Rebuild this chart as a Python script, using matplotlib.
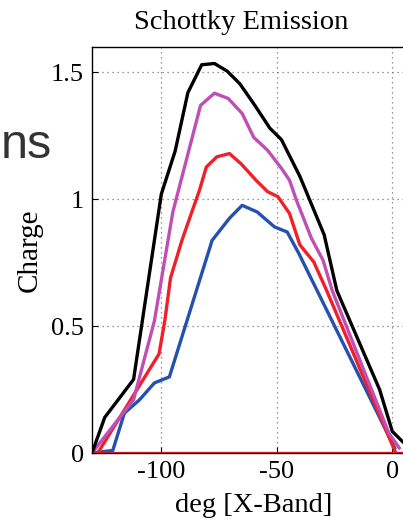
import matplotlib.pyplot as plt

# data (deg, charge)
black_x = [-130, -124.5, -112, -100, -94, -88.5, -82.5, -77, -71.5, -66, -59.5, -53, -48, -40, -29.5, -24, -5.5, 0, 5]
black_y = [0, 0.14, 0.29, 1.02, 1.19, 1.42, 1.53, 1.535, 1.505, 1.455, 1.37, 1.28, 1.235, 1.09, 0.86, 0.64, 0.25, 0.085, 0.04]

magenta_x = [-130, -112, -103, -95, -83, -77, -71, -65, -60, -54, -48, -44.5, -41.5, -35, -30, -26, -1.5, 3]
magenta_y = [0, 0.21, 0.52, 0.95, 1.37, 1.418, 1.397, 1.338, 1.244, 1.193, 1.122, 1.075, 0.996, 0.846, 0.76, 0.64, 0.078, 0.02]

red_x = [-127.5, -101, -98.5, -96, -91, -83.5, -80.5, -76, -70.5, -65.5, -59, -54, -49.5, -44.5, -40, -34, -28.5, 1.5]
red_y = [0, 0.39, 0.52, 0.69, 0.84, 1.035, 1.127, 1.167, 1.18, 1.14, 1.075, 1.03, 1.01, 0.944, 0.82, 0.753, 0.642, 0]

blue_x = [-130, -121, -116, -109.5, -103, -96.5, -78, -70.5, -65, -58.5, -51, -45.5, -40.5, 1]
blue_y = [0, 0.01, 0.157, 0.209, 0.276, 0.30, 0.838, 0.925, 0.976, 0.95, 0.891, 0.871, 0.787, 0.02]

zero_x = [-130, 10]
zero_y = [0, 0]

xticks = [-100, -50, 0]
yticks = [0, 0.5, 1, 1.5]
ytick_labels = ['0', '0.5', '1', '1.5']

plt.rcParams['font.family'] = ['Liberation Serif', 'DejaVu Serif']

fig = plt.figure(figsize=(4.03, 5.24), dpi=100)
ax = fig.add_axes([92 / 403, 71 / 524, 323.4 / 403, 406 / 524])

lw = 2.4
ax.plot(blue_x, blue_y, color='#2451b0', lw=lw)
ax.plot(red_x, red_y, color='#f0202a', lw=lw)
ax.plot(magenta_x, magenta_y, color='#bf4fb5', lw=lw)
ax.plot(black_x, black_y, color='black', lw=lw)
ax.plot(zero_x, zero_y, color='#f0202a', lw=lw)

ax.set_xlim(-130, 10)
ax.set_ylim(0, 1.6)
ax.set_xticks(xticks)
ax.set_xticklabels(['-100', '-50', '0'])
ax.set_yticks(yticks)
ax.set_yticklabels(ytick_labels)
ax.grid(True, linestyle=(0, (1, 3)), color='#777777', lw=0.9)
ax.tick_params(direction='in', length=4, labelsize=19, pad=6)
for s in ax.spines.values():
    s.set_linewidth(1.0)
ax.spines['right'].set_visible(False)

ax.set_title('Schottky Emission', fontsize=20.5, pad=13, x=0.461)
ax.set_xlabel('deg [X-Band]', fontsize=20.5, labelpad=7)
ax.set_ylabel('Charge', fontsize=21, labelpad=6)

# fragment of slide text at the left edge
fig.text(0.5 / 403, 1 - 158 / 524, 'ns', family=['Liberation Sans', 'DejaVu Sans'],
         fontsize=35, color='#333333', ha='left', va='baseline')

fig.savefig('out.png', dpi=100)
